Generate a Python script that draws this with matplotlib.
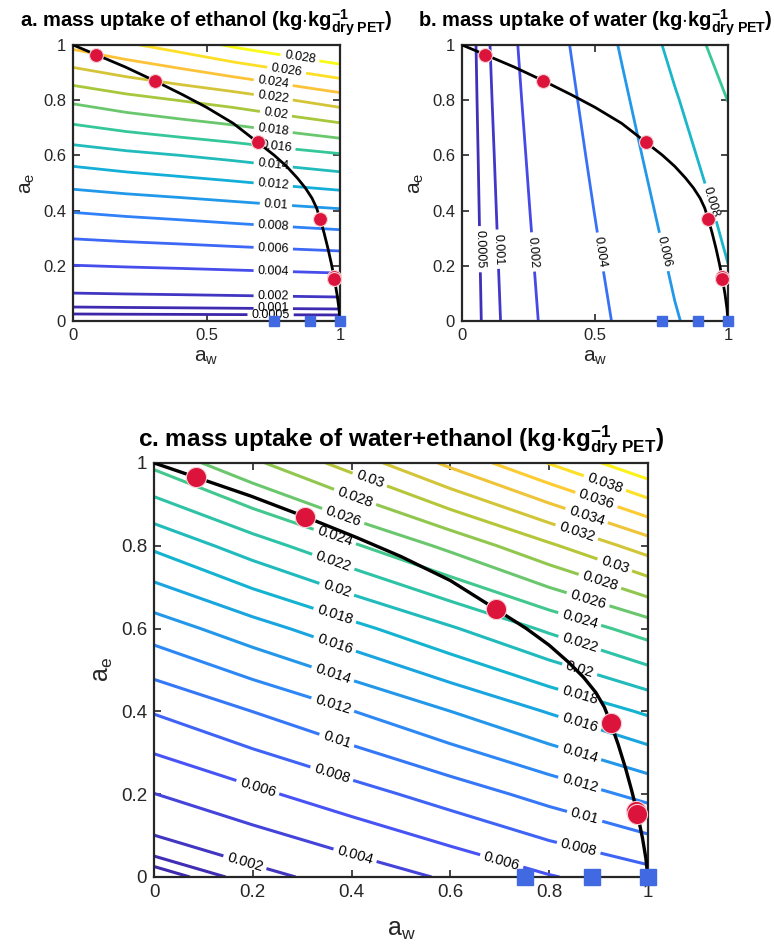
import numpy as np
import matplotlib
matplotlib.use('Agg')
import matplotlib.pyplot as plt
from matplotlib.colors import LinearSegmentedColormap, Normalize

plt.rcParams['font.family'] = ['Liberation Sans', 'DejaVu Sans']
plt.rcParams['mathtext.fontset'] = 'custom'
plt.rcParams['mathtext.rm'] = 'Liberation Sans'
plt.rcParams['mathtext.it'] = 'Liberation Sans:italic'
plt.rcParams['mathtext.bf'] = 'Liberation Sans:bold'

aw_grid = [0.0, 0.2, 0.4, 0.6, 0.8, 1.0]
ae_grid = [0.0, 0.2, 0.4, 0.6, 0.8, 1.0]

# ethanol uptake, rows = a_e, columns = a_w
ethanol = [
    [0.0, 0.0, 0.0, 0.0, 0.0, 0.0],
    [0.00396, 0.00409, 0.00420, 0.00433, 0.00447, 0.00461],
    [0.00814, 0.00847, 0.00876, 0.00910, 0.00945, 0.00980],
    [0.01296, 0.01352, 0.01400, 0.01452, 0.01515, 0.01578],
    [0.01836, 0.01928, 0.02006, 0.02084, 0.02186, 0.02294],
    [0.02450, 0.02570, 0.02690, 0.02830, 0.02950, 0.03070],
]

# water uptake, rows = a_e, columns = a_w
water = [
    [0.0, 0.00138, 0.00281, 0.00428, 0.00586, 0.00720],
    [0.0, 0.00146, 0.00298, 0.00457, 0.00625, 0.00798],
    [0.0, 0.00155, 0.00318, 0.00489, 0.00669, 0.00850],
    [0.0, 0.00165, 0.00340, 0.00525, 0.00721, 0.00916],
    [0.0, 0.00177, 0.00365, 0.00567, 0.00781, 0.01003],
    [0.0, 0.00190, 0.00395, 0.00616, 0.00858, 0.01100],
]

levels_a = [0.0005, 0.001, 0.002, 0.004, 0.006, 0.008, 0.01, 0.012, 0.014,
            0.016, 0.018, 0.02, 0.022, 0.024, 0.026, 0.028]
levels_b = [0.0005, 0.001, 0.002, 0.004, 0.006, 0.008, 0.01]
levels_c = [0.0005, 0.001, 0.002, 0.004, 0.006, 0.008, 0.01, 0.012, 0.014,
            0.016, 0.018, 0.02, 0.022, 0.024, 0.026, 0.028, 0.03, 0.032,
            0.034, 0.036, 0.038, 0.04]

# equilibrium curve
curve_aw = [0, 0.086, 0.196, 0.306, 0.41, 0.5, 0.6, 0.692, 0.754, 0.80,
            0.84, 0.87, 0.895, 0.912, 0.925, 0.94, 0.955, 0.967, 0.978,
            0.989, 0.996, 1.0]
curve_ae = [1, 0.965, 0.920, 0.870, 0.820, 0.774, 0.716, 0.647, 0.600, 0.560,
            0.518, 0.482, 0.445, 0.410, 0.371, 0.320, 0.262, 0.210, 0.158,
            0.095, 0.045, 0.0]

# experiments
vap_aw = [0.086, 0.306, 0.692, 0.925, 0.977, 0.978]
vap_ae = [0.965, 0.870, 0.647, 0.371, 0.160, 0.152]
liq_aw = [0.751, 0.887, 1.0]
liq_ae = [0.0, 0.0, 0.0]

# parula (8 anchors)
parula = LinearSegmentedColormap.from_list('parula', [
    (0.2422, 0.1504, 0.6603), (0.2810, 0.3228, 0.9579), (0.1786, 0.5289, 0.9682),
    (0.0689, 0.6948, 0.8394), (0.2161, 0.7843, 0.5923), (0.6720, 0.7793, 0.2227),
    (0.9970, 0.7659, 0.2199), (0.9769, 0.9839, 0.0805)])

GREY = (0.15, 0.15, 0.15)

AW, AE = np.meshgrid(aw_grid, ae_grid)
Z_e = np.array(ethanol)
Z_w = np.array(water)
Z_t = Z_e + Z_w


def point_on(cs, lev, axis, c):
    i = int(np.argmin(np.abs(np.array(cs.levels) - lev)))
    for seg in cs.allsegs[i]:
        for p, q in zip(seg[:-1], seg[1:]):
            if (p[axis] - c) * (q[axis] - c) <= 0 and p[axis] != q[axis]:
                t = (c - p[axis]) / (q[axis] - p[axis])
                return tuple(p + t * (q - p))
    return None


def add_labels(ax, cs, spots, axis, fs):
    pts = [point_on(cs, lev, axis, c) for lev, c in spots]
    pts = [p for p in pts if p is not None]
    ax.clabel(cs, manual=pts, inline=True, fmt='%g', fontsize=fs,
              inline_spacing=4, colors='k')


def style(ax, xticks, fs_tick, fs_lab, xpad=4):
    ax.set_xlim(0, 1)
    ax.set_ylim(0, 1)
    ax.set_xticks(xticks)
    ax.set_xticklabels(['%g' % v for v in xticks])
    ax.set_yticks([0, 0.2, 0.4, 0.6, 0.8, 1])
    ax.set_yticklabels(['0', '0.2', '0.4', '0.6', '0.8', '1'])
    ax.tick_params(direction='in', top=True, right=True, length=5, width=1.2,
                   colors=GREY, labelsize=fs_tick, pad=5)
    for s in ax.spines.values():
        s.set_linewidth(1.6)
        s.set_color(GREY)
    ax.set_xlabel(r'a$_\mathrm{w}$', fontsize=fs_lab, color=GREY, labelpad=xpad)
    ax.set_ylabel(r'a$_\mathrm{e}$', fontsize=fs_lab, color=GREY)


def overlay(ax, ms_red, ms_blue, lw):
    ax.plot(curve_aw, curve_ae, color='k', lw=lw, zorder=4)
    ax.plot(vap_aw, vap_ae, 'o', color='#dc143c', ms=ms_red, mec='#f6d0d5',
            mew=0.8, zorder=5, clip_on=False)
    ax.plot(liq_aw, liq_ae, 's', color='#4169e1', ms=ms_blue, mec='#4169e1',
            zorder=6, clip_on=False)


UNIT = r'(kg$\cdot$kg$\mathbf{^{-1}_{dry\ PET}}$)'

fig = plt.figure(figsize=(7.74, 9.44), dpi=100)

# a. ethanol
ax1 = fig.add_axes([0.0943, 0.660, 0.345, 0.2924])
cs1 = ax1.contour(AW, AE, Z_e, levels=levels_a, cmap=parula,
                  norm=Normalize(0.0005, 0.028), linewidths=2.0)
add_labels(ax1, cs1, [(0.0005, 0.74), (0.001, 0.75), (0.002, 0.75), (0.004, 0.75),
                      (0.006, 0.75), (0.008, 0.75), (0.01, 0.76), (0.012, 0.75),
                      (0.014, 0.75), (0.016, 0.76), (0.018, 0.75), (0.02, 0.76),
                      (0.022, 0.75), (0.024, 0.75), (0.026, 0.80), (0.028, 0.85)],
           0, 9)
overlay(ax1, 10, 7, 2.0)
style(ax1, [0, 0.5, 1], 12, 15)
ax1.set_title('a. mass uptake of ethanol ' + UNIT,
              fontsize=14.5, fontweight='bold', pad=13)

# b. water
ax2 = fig.add_axes([0.5969, 0.660, 0.3437, 0.2924])
cs2 = ax2.contour(AW, AE, Z_w, levels=levels_b, cmap=parula,
                  norm=Normalize(0, 0.0175), linewidths=2.0)
add_labels(ax2, cs2, [(0.0005, 0.26), (0.001, 0.26), (0.002, 0.25), (0.004, 0.25),
                      (0.006, 0.25), (0.008, 0.43)], 1, 9)
overlay(ax2, 10, 7, 2.0)
style(ax2, [0, 0.5, 1], 12, 15)
ax2.set_title('b. mass uptake of water ' + UNIT,
              fontsize=14.5, fontweight='bold', pad=13)

# c. total
ax3 = fig.add_axes([0.199, 0.071, 0.638, 0.4386])
cs3 = ax3.contour(AW, AE, Z_t, levels=levels_c, cmap=parula,
                  norm=Normalize(0, 0.041), linewidths=2.2)
add_labels(ax3, cs3, [(0.002, 0.184), (0.004, 0.407), (0.006, 0.21), (0.006, 0.704),
                      (0.008, 0.36), (0.01, 0.37), (0.012, 0.362), (0.014, 0.362),
                      (0.016, 0.366), (0.018, 0.366), (0.02, 0.37), (0.022, 0.363),
                      (0.024, 0.366), (0.026, 0.383), (0.028, 0.407), (0.03, 0.437),
                      (0.008, 0.86), (0.01, 0.872), (0.012, 0.862), (0.014, 0.862),
                      (0.016, 0.862), (0.018, 0.862), (0.02, 0.862), (0.022, 0.862),
                      (0.024, 0.862), (0.026, 0.879), (0.028, 0.903), (0.03, 0.933),
                      (0.032, 0.856), (0.034, 0.876), (0.036, 0.896), (0.038, 0.913)],
           0, 10.5)
overlay(ax3, 14.5, 11, 2.4)
style(ax3, [0, 0.2, 0.4, 0.6, 0.8, 1], 13.5, 18, xpad=12)
ax3.set_title('c. mass uptake of water+ethanol ' + UNIT,
              fontsize=17.5, fontweight='bold', pad=12)

fig.savefig('out.png', dpi=100)
